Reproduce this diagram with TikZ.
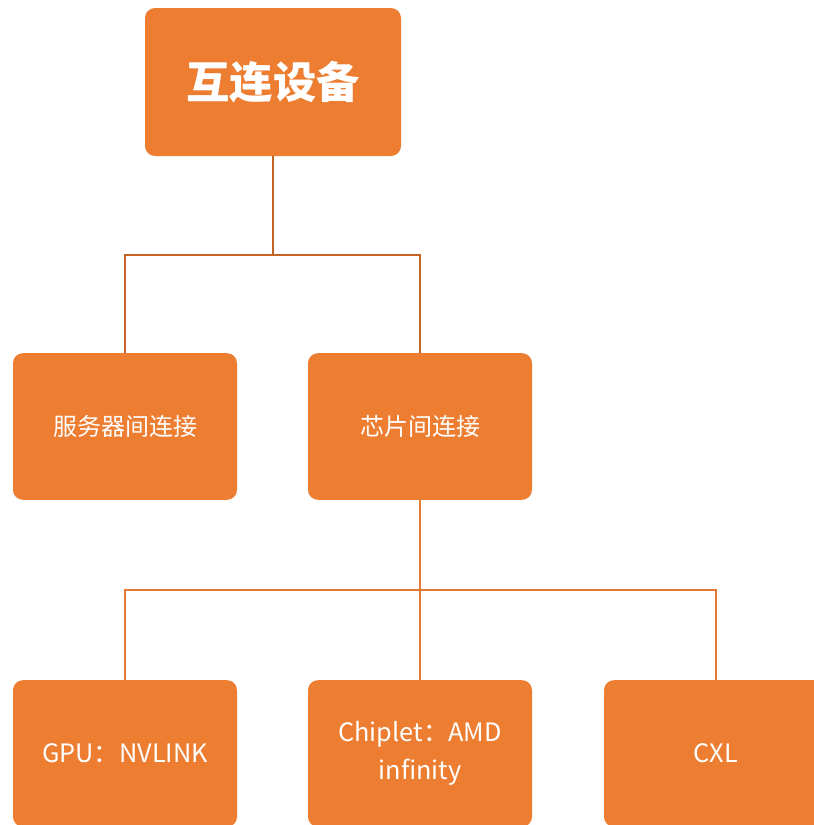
\documentclass[tikz,border=0pt]{standalone}
\usepackage{fontspec}
\setmainfont{Noto Sans CJK SC}
\usepackage{tikz}
\usetikzlibrary{calc}

\definecolor{boxorange}{RGB}{237,125,49}
\definecolor{linkdark}{RGB}{197,98,38}
\definecolor{linklight}{RGB}{226,122,52}

\tikzset{
  item/.style={fill=boxorange, rounded corners=7.5pt, text=white,
    minimum width=168pt, minimum height=110pt, align=center,
    font=\fontsize{18}{28}\selectfont},
  latin/.style={font=\fontsize{19}{28}\selectfont},
  link/.style={line width=1.8pt},
}

\begin{document}
\begin{tikzpicture}[x=0.75pt,y=-0.75pt]
        \useasboundingbox (0,0) rectangle (814,825);
        \clip (0,0) rectangle (814,825);
        
        \node[item, minimum width=192pt, minimum height=111pt,
              font=\fontsize{32.5}{36}\selectfont\bfseries] (top) at (273,82) {互连设备};
        
        \node[item] (srv) at (125,426.5) {服务器间连接};
        \node[item] (chip) at (420,426.5) {芯片间连接};
        
        \node[item, latin] (gpu) at (125,753.5) {GPU：NVLINK};
        \node[item, latin] (amd) at (420,753.5) {Chiplet：AMD\\infinity};
        \node[item, latin] (cxl) at (716,753.5) {CXL};
        
        \coordinate (busA) at (273,255);
        \coordinate (busB) at (420,590);
        
        \draw[link, linkdark] (top.south) -- (busA);
        \draw[link, linkdark] (srv.north) |- (busA) -| (chip.north);
        
        \draw[link, linklight] (chip.south) -- (amd.north);
        \draw[link, linklight] (gpu.north) |- (busB) -| (cxl.north);
        
    \end{tikzpicture}
\end{document}
